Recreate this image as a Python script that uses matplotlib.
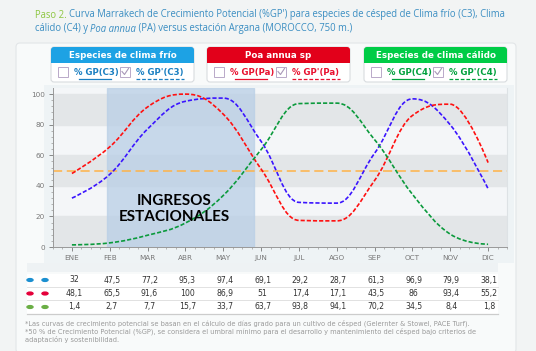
import matplotlib.pyplot as plt
from matplotlib.patches import FancyBboxPatch, Rectangle, Ellipse, PathPatch
from matplotlib.path import Path

# data
months = ['ENE', 'FEB', 'MAR', 'ABR', 'MAY', 'JUN', 'JUL', 'AGO', 'SEP', 'OCT', 'NOV', 'DIC']
gp_c3 = [32, 47.5, 77.2, 95.3, 97.4, 69.1, 29.2, 28.7, 61.3, 96.9, 79.9, 38.1]
gp_pa = [48.1, 65.5, 91.6, 100, 86.9, 51, 17.4, 17.1, 43.5, 86, 93.4, 55.2]
gp_c4 = [1.4, 2.7, 7.7, 15.7, 33.7, 63.7, 93.8, 94.1, 70.2, 34.5, 8.4, 1.8]
threshold = 50
season = (0.92, 4.8)   # shaded "ingresos estacionales" window, in month index units

BLUE_LINE, RED_LINE, GREEN_LINE = '#3a14ff', '#ff1010', '#0b9a3c'
TEXT_BLUE = '#3b8ec2'


def spline_path(xs, ys, smoothing=1.5):
    """Smooth curve through the points (highcharts-like spline)."""
    n = len(xs)
    lc, rc = [None] * n, [None] * n
    for i in range(n):
        x, y = xs[i], ys[i]
        if i == 0 or i == n - 1:
            lc[i] = rc[i] = (x, y)
            continue
        lx, ly, nx, ny = xs[i - 1], ys[i - 1], xs[i + 1], ys[i + 1]
        d = smoothing + 1
        lcx, lcy = (smoothing * x + lx) / d, (smoothing * y + ly) / d
        rcx, rcy = (smoothing * x + nx) / d, (smoothing * y + ny) / d
        corr = (rcy - lcy) * (rcx - x) / (rcx - lcx) + y - rcy
        lcy += corr
        rcy += corr
        if lcy > ly and lcy > y:
            lcy = max(ly, y); rcy = 2 * y - lcy
        if lcy < ly and lcy < y:
            lcy = min(ly, y); rcy = 2 * y - lcy
        if rcy > ny and rcy > y:
            rcy = max(ny, y); lcy = 2 * y - rcy
        if rcy < ny and rcy < y:
            rcy = min(ny, y); lcy = 2 * y - rcy
        lc[i], rc[i] = (lcx, lcy), (rcx, rcy)
    verts, codes = [(xs[0], ys[0])], [Path.MOVETO]
    for i in range(1, n):
        verts += [rc[i - 1], lc[i], (xs[i], ys[i])]
        codes += [Path.CURVE4] * 3
    return Path(verts, codes)


fig = plt.figure(figsize=(5.36, 3.51), dpi=100)
fig.patch.set_facecolor('#f2f4f4')

# overlay in pixel coordinates
bg = fig.add_axes([0, 0, 1, 1])
bg.set_xlim(0, 536)
bg.set_ylim(351, 0)
bg.axis('off')
renderer = fig.canvas.get_renderer()


def chain(x, y, pieces, **kw):
    for s, props in pieces:
        t = bg.text(x, y, s, va='center', ha='left', **kw, **props)
        x += t.get_window_extent(renderer).width
    return x


# title
tfont = dict(family='Open Sans', fontsize=6.85)
chain(35, 15, [('Paso 2. ', dict(color='#8cc63f')),
               ("Curva Marrakech de Crecimiento Potencial (%GP') para especies de césped de Clima frío (C3), Clima",
                dict(color=TEXT_BLUE))], **tfont)
chain(35, 29, [('cálido (C4) y ', dict(color=TEXT_BLUE)),
               ('Poa annua', dict(color=TEXT_BLUE, style='italic')),
               (' (PA) versus estación Argana (MOROCCO, 750 m.)', dict(color=TEXT_BLUE))], **tfont)

# main panel
bg.add_patch(FancyBboxPatch((16, 43), 500, 310, boxstyle='round,pad=0,rounding_size=4',
                            fc='#f8fafa', ec='#e2e6e8', lw=0.8))
bg.add_patch(Rectangle((44, 85), 470, 178, fc='#eef3f5', ec='none'))

# legend boxes
legend = [
    ('Especies de clima frío', '#1da2e4', '#1a7fc1', 'C3', 51),
    ('Poa annua sp', '#e2001a', '#e8102e', 'Pa', 207),
    ('Especies de clima cálido', '#00cc46', '#00a03c', 'C4', 364),
]
for title, hc, tc, code, x0 in legend:
    w = 143
    bg.add_patch(FancyBboxPatch((x0, 47), w, 35, boxstyle='round,pad=0,rounding_size=3',
                                fc='white', ec='#d8dcdf', lw=0.8))
    bg.add_patch(FancyBboxPatch((x0, 47), w, 15.5, boxstyle='round,pad=0,rounding_size=3',
                                fc=hc, ec='none'))
    bg.add_patch(Rectangle((x0, 56), w, 6.5, fc=hc, ec='none'))
    bg.text(x0 + w / 2, 55, title, color='white', fontsize=6.3, fontweight='bold',
            ha='center', va='center')
    # checkboxes and labels
    bg.add_patch(Rectangle((x0 + 7, 66.5), 10, 10, fc='white', ec='#b9a9c9', lw=0.7))
    bg.text(x0 + 23, 72, f'% GP({code})', color=tc, fontsize=6.2, fontweight='bold',
            ha='left', va='center')
    bg.plot([x0 + 28, x0 + 60], [78.5, 78.5], color=tc, lw=0.9)
    bg.add_patch(Rectangle((x0 + 69, 66.5), 10, 10, fc='white', ec='#b9a9c9', lw=0.7))
    bg.plot([x0 + 71, x0 + 73.5, x0 + 77.5], [71.5, 74.5, 68.5], color='#a898b8', lw=0.8)
    bg.text(x0 + 85, 72, f"% GP'({code})", color=tc, fontsize=6.2, fontweight='bold',
            ha='left', va='center')
    bg.plot([x0 + 85, x0 + 133], [78.5, 78.5], color=tc, lw=0.9, ls=(0, (3, 1.5)))

# chart
ax = fig.add_axes([53 / 536, (351 - 247) / 351, (507 - 53) / 536, (247 - 88) / 351])
ax.set_facecolor('#f4f6f8')
for lo in (0, 40, 80):
    ax.axhspan(lo, lo + 20, color='#e3e6e8', zorder=0)
ax.axvspan(season[0], season[1], color='#b9cfe6', alpha=0.75, zorder=1)
ax.axhline(threshold, color='#ffb347', lw=1.1, ls=(0, (6, 3)), zorder=2)

xs = list(range(len(months)))
for vals, c in ((gp_c3, BLUE_LINE), (gp_pa, RED_LINE), (gp_c4, GREEN_LINE)):
    ax.add_patch(PathPatch(spline_path(xs, vals), fill=False, ec=c, lw=1.2,
                           ls=(0, (2.5, 1.2)), zorder=3))

ax.text(2.7, 25, 'INGRESOS\nESTACIONALES', ha='center', va='center',
        fontsize=11, fontweight='bold', family='Lato', linespacing=1.15, zorder=4)

ax.set_xticks(xs)
ax.set_xticklabels(months)
ax.set_xticks([i + 0.5 for i in range(-1, 12)] + [i + 0.25 for i in range(-1, 12)]
              + [i - 0.25 for i in range(0, 12)], minor=True)
ax.set_yticks(range(0, 101, 20))
ax.set_yticks(range(0, 104, 4), minor=True)
ax.set_xlim(-0.5, 11.5)
ax.set_ylim(0, 104)
ax.tick_params(axis='both', labelsize=5.2, colors='#777777', length=3, width=0.6, pad=3)
ax.tick_params(which='minor', length=1.5, width=0.5, colors='#999999')
for s in ('top',):
    ax.spines[s].set_visible(False)
ax.spines['right'].set_color('#dde2e5')
for s in ('left', 'bottom'):
    ax.spines[s].set_color('#999999')
    ax.spines[s].set_linewidth(0.7)

# data table
month_px = [72 + i * (487 - 72) / 11 for i in range(12)]
bg.add_patch(Rectangle((27, 263), 471, 9, fc='#eef2f4', ec='none'))
rows = [(gp_c3, '#1b8fd0', 280), (gp_pa, '#e4003a', 293.5), (gp_c4, '#6aae45', 307)]
for vals, c, y in rows:
    bg.add_patch(Rectangle((27, y - 6.5), 471, 13, fc='white', ec='none'))
    for dx in (30, 45):
        bg.add_patch(Ellipse((dx, y), 7.5, 4.2, fc=c, ec='none'))
    for px, v in zip(month_px, vals):
        bg.text(px + 2, y, ('%g' % v).replace('.', ','), ha='center', va='center',
                fontsize=5.6, color='#333333')
    bg.plot([27, 498], [y + 6.5, y + 6.5], color='#dddddd', lw=0.6)
bg.plot([27, 498], [313.5, 313.5], color='#cccccc', lw=0.9)

notes = [
    '*Las curvas de crecimiento potencial se basan en el cálculo de días grado para un cultivo de césped (Gelernter & Stowel, PACE Turf).',
    '*50 % de Crecimiento Potencial (%GP), se considera el umbral mínimo para el desarrollo y mantenimiento del césped bajo criterios de',
    'adaptación y sostenibilidad.',
]
for i, s in enumerate(notes):
    bg.text(25, 323 + i * 8.3, s, fontsize=4.75, color='#999999', ha='left', va='center')

fig.savefig('out.png', dpi=100)
